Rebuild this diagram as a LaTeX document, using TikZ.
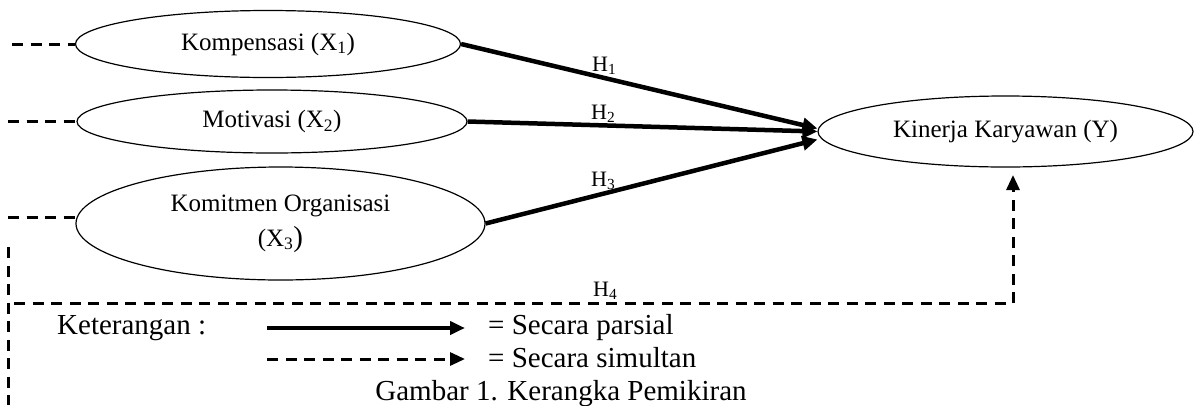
\documentclass[tikz,border=0pt]{standalone}
\usepackage{fontspec}
\setmainfont{Liberation Serif}
\usetikzlibrary{shapes.geometric,arrows.meta}
\begin{document}
\begin{tikzpicture}[x=1pt,y=-1pt,
  var/.style={draw, ellipse, inner sep=0pt, line width=1.2pt, font=\fontsize{25}{35}\selectfont, align=center},
  stub/.style={line width=3pt, dash pattern=on 11pt off 7.5pt},
  partial/.style={line width=4.5pt, -{Triangle[length=15pt,width=14pt]}},
  simul/.style={line width=3pt, dash pattern=on 11pt off 7.5pt, -{Triangle[length=15pt,width=13pt]}},
  hlab/.style={font=\fontsize{22}{24}\selectfont, inner sep=0pt, anchor=base west},
  legend/.style={font=\fontsize{29}{33}\selectfont, inner sep=0pt, anchor=base west}]
\useasboundingbox (0,0) rectangle (1202,405);
% variables
\node[var, minimum width=385pt, minimum height=67pt] (x1) at (268,44) {Kompensasi (X\textsubscript{1})};
\node[var, minimum width=390pt, minimum height=63pt] (x2) at (272,121.5) {Motivasi (X\textsubscript{2})};
\node[var, minimum width=409pt, minimum height=113pt] (x3) at (280.5,223.5) {Komitmen Organisasi\\(X\textsubscript{3}{\fontsize{29}{35}\selectfont)}};
\node[var, minimum width=375pt, minimum height=71pt] (ky) at (1005.5,131.5) {Kinerja Karyawan (Y)};
% left stubs
\coordinate (s1) at (12,44);
\coordinate (s2) at (8,121.5);
\coordinate (s3) at (8,217);
\draw[stub] (s1) -- (x1.west);
\draw[stub] (s2) -- (x2.west);
\draw[stub] (s3) -- (x3.west |- s3);
% partial arrows
\draw[partial] (x1.east) -- ([yshift=3pt]ky.west);
\draw[partial] (x2.east) -- (ky.west);
\draw[partial] (x3.east) -- ([yshift=-8pt]ky.west);
\node[hlab] (h1) at (592,71) {H\textsubscript{1}};
\node[hlab] (h2) at (591,119) {H\textsubscript{2}};
\node[hlab] (h3) at (591,186) {H\textsubscript{3}};
% simultaneous path
\coordinate (v0) at (8,247);
\coordinate (v1) at (8,405);
\coordinate (c0) at (14,303);
\coordinate (c1) at (1013,303);
\coordinate (tip4) at (1013,175);
\draw[stub] (v0) -- (v1);
\draw[simul] (c0) -- (c1) -- (tip4);
\node[hlab] (h4) at (593,296) {H\textsubscript{4}};
% legend
\node[legend] (ket) at (57,334) {Keterangan :};
\coordinate (la) at (267,328);
\coordinate (lb) at (465,328);
\coordinate (lc) at (267,359);
\coordinate (ld) at (465,359);
\draw[line width=4pt, -{Triangle[length=15pt,width=13pt]}] (la) -- (lb);
\draw[line width=3pt, dash pattern=on 11pt off 7.5pt, -{Triangle[length=15pt,width=13pt]}] (lc) -- (ld);
\node[legend] (lp) at (488,334) {= Secara parsial};
\node[legend] (ls) at (488,367) {= Secara simultan};
\node[legend, anchor=base] (cap) at (561,400) {Gambar 1. Kerangka Pemikiran};
\end{tikzpicture}
\end{document}
